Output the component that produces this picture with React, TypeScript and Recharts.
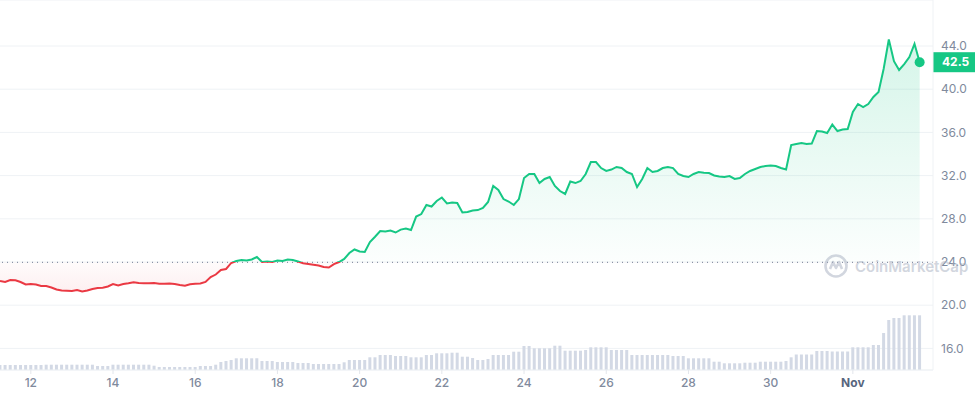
import React from 'react';
import { ComposedChart, Line, Area, Bar, XAxis, YAxis, CartesianGrid, ReferenceLine, ReferenceDot } from 'recharts';

// 3-hour samples starting Oct 11 06:00 (day numbers: Oct 12 = 12, Nov 1 = 32)
const startDay = 11.25;
const stepDay = 0.125;

const prices = [
  22.24, 22.15, 22.33, 22.31, 22.15, 21.92, 21.96, 21.92, 21.78, 21.78,
  21.64, 21.45, 21.36, 21.34, 21.31, 21.41, 21.27, 21.36, 21.5, 21.59,
  21.62, 21.73, 21.96, 21.82, 21.96, 22.03, 22.12, 22.06, 22.03, 22.03,
  22.06, 21.99, 21.99, 22.01, 21.96, 21.87, 21.81, 21.94, 21.99, 22.01,
  22.15, 22.61, 22.84, 23.26, 23.35, 23.91, 24.09, 24.19, 24.14, 24.23,
  24.46, 24.0, 24.05, 24.0, 24.14, 24.09, 24.23, 24.19, 24.05, 23.88,
  23.81, 23.75, 23.68, 23.54, 23.49, 23.81, 24.0, 24.28, 24.83, 25.16,
  24.97, 24.93, 25.85, 26.34, 26.87, 26.82, 26.91, 26.73, 27.0, 27.1,
  26.96, 28.21, 28.44, 29.28, 29.14, 29.65, 29.97, 29.42, 29.51, 29.46,
  28.58, 28.63, 28.77, 28.81, 29.0, 29.56, 31.04, 30.67, 29.83, 29.6,
  29.28, 29.83, 31.78, 32.15, 32.15, 31.31, 31.69, 31.87, 31.04, 30.57,
  30.3, 31.45, 31.31, 31.5, 32.15, 33.26, 33.26, 32.7, 32.43, 32.56,
  32.8, 32.7, 32.33, 32.15, 30.94, 31.69, 32.7, 32.33, 32.43, 32.7,
  32.8, 32.7, 32.15, 31.96, 31.87, 32.15, 32.33, 32.27, 32.24, 32.01,
  31.92, 31.87, 31.96, 31.69, 31.78, 32.15, 32.43, 32.61, 32.8, 32.89,
  32.94, 32.89, 32.7, 32.56, 34.83, 34.93, 35.02, 34.93, 34.97, 36.13,
  36.08, 35.94, 36.73, 36.13, 36.27, 36.31, 37.89, 38.63, 38.35, 38.63,
  39.28, 39.74, 41.9, 44.6, 42.6, 41.78, 42.33, 42.98, 44.2, 42.5,
];

// volume, millions (no axis shown)
const volumes = [
  100, 100, 100, 100, 100, 100, 100, 100, 100, 106,
  106, 106, 106, 106, 106, 106, 106, 106, 106, 80,
  80, 80, 106, 106, 106, 106, 106, 106, 106, 106,
  86, 60, 60, 60, 60, 60, 60, 60, 60, 80,
  80, 80, 106, 160, 180, 200, 234, 234, 234, 234,
  234, 180, 180, 180, 160, 160, 160, 160, 140, 140,
  140, 120, 120, 120, 120, 120, 120, 154, 200, 200,
  200, 200, 254, 254, 300, 300, 300, 280, 280, 280,
  254, 254, 254, 300, 300, 334, 334, 334, 346, 346,
  266, 266, 240, 200, 200, 220, 300, 300, 300, 300,
  366, 366, 480, 480, 434, 434, 434, 434, 486, 486,
  386, 386, 386, 386, 400, 454, 454, 454, 454, 400,
  400, 400, 400, 300, 300, 300, 300, 300, 300, 300,
  300, 280, 280, 280, 234, 234, 234, 234, 234, 166,
  166, 134, 134, 134, 134, 146, 146, 146, 166, 166,
  166, 166, 166, 180, 254, 310, 310, 310, 310, 380,
  380, 380, 370, 370, 370, 370, 454, 454, 454, 454,
  500, 500, 740, 1000, 1040, 1040, 1094, 1094, 1094, 1094,
];

const xTicks = [12, 14, 16, 18, 20, 22, 24, 26, 28, 30, 32];
const yTicks = [16, 20, 24, 28, 32, 36, 40, 44];
const basePrice = 23.97;

const data = prices.map((p, i) => ({ d: startDay + i * stepDay, price: p, vol: volumes[i] }));

const GREEN = '#16c784';
const RED = '#ea3943';
const FONT = 'Inter, "Noto Sans", sans-serif';

const maxP = Math.max(...prices);
const minP = Math.min(...prices);
const off = (maxP - basePrice) / (maxP - minP);
const last = data[data.length - 1];

const XTick = (props: any) => {
  const { x, y, payload } = props;
  const nov = payload.value === 32;
  return (
    <text x={x} y={y} dy="0.71em" textAnchor="middle" fontSize={12} fontFamily={FONT}
      fontWeight={nov ? 700 : 500} fill={nov ? '#58667e' : '#808a9d'}>
      {nov ? 'Nov' : payload.value}
    </text>
  );
};

const PriceTag = (props: any) => {
  const vb = props.viewBox || {};
  const x = vb.x + vb.width;
  const y = vb.y;
  return (
    <g>
      <rect x={x} y={y - 10} width={42} height={20} fill={GREEN} />
      <text x={x + 9} y={y} dy="0.35em" fontSize={12} fontWeight={700} fill="#fff" fontFamily={FONT}>
        {last.price.toFixed(1)}
      </text>
    </g>
  );
};

const Watermark = () => (
  <div style={{ position: 'absolute', left: 823, top: 253, display: 'flex', alignItems: 'center', pointerEvents: 'none', opacity: 0.5 }}>
    <svg width={26} height={26} viewBox="0 0 26 26">
      <circle cx={13} cy={13} r={10.5} fill="none" stroke="#a6afc0" strokeWidth={2.6} />
      <path d="M7 16 L10 9 L13 15 L16 9 L19 16" fill="none" stroke="#a6afc0" strokeWidth={2.6} strokeLinejoin="round" />
    </svg>
    <span style={{ marginLeft: 6, fontFamily: FONT, fontSize: 15, fontWeight: 600, color: '#a6afc0' }}>CoinMarketCap</span>
  </div>
);

const App = () => {
  return (
    <div style={{ position: 'absolute', left: 0, top: 0, width: 975, height: 396, background: '#fff' }}>
      <ComposedChart width={975} height={396} data={data} margin={{ top: 0, right: 0, bottom: 0, left: 0 }}>
        <defs>
          <linearGradient id="lineGrad" x1="0" y1="0" x2="0" y2="1">
            <stop offset={off} stopColor={GREEN} />
            <stop offset={off} stopColor={RED} />
          </linearGradient>
          <linearGradient id="fillGrad" x1="0" y1="0" x2="0" y2="1">
            <stop offset={0} stopColor={GREEN} stopOpacity={0.3} />
            <stop offset={off} stopColor={GREEN} stopOpacity={0.02} />
            <stop offset={off} stopColor={RED} stopOpacity={0.03} />
            <stop offset={1} stopColor={RED} stopOpacity={0.13} />
          </linearGradient>
        </defs>
        <CartesianGrid yAxisId="p" vertical={false} stroke="#eff2f5" />
        <XAxis dataKey="d" type="number" domain={[11.25, 33.95]} ticks={xTicks} height={26}
          axisLine={{ stroke: '#eff2f5' }} tickLine={{ stroke: '#e3e6eb' }} tickSize={4} tickMargin={4}
          tick={<XTick />} interval={0} allowDataOverflow />
        <YAxis yAxisId="p" orientation="right" width={42} domain={[14, 48.26]} ticks={yTicks}
          allowDataOverflow axisLine={{ stroke: '#eff2f5' }} tickLine={false}
          tick={{ fill: '#808a9d', fontSize: 12, fontFamily: FONT }} tickFormatter={(v: number) => v.toFixed(1)} />
        <YAxis yAxisId="v" hide domain={[0, 7400]} />
        <Bar yAxisId="v" dataKey="vol" fill="#d3d9e5" barSize={3} isAnimationActive={false} />
        <Area yAxisId="p" type="linear" dataKey="price" baseValue={basePrice} stroke="none"
          fill="url(#fillGrad)" dot={false} activeDot={false} isAnimationActive={false} />
        <ReferenceLine yAxisId="p" y={basePrice} stroke="#8a93a6" strokeDasharray="1 4" strokeWidth={1.2} />
        <Line yAxisId="p" type="linear" dataKey="price" stroke="url(#lineGrad)" strokeWidth={2}
          dot={false} activeDot={false} isAnimationActive={false} />
        <ReferenceDot yAxisId="p" x={last.d} y={last.price} r={5} fill={GREEN} stroke="none" ifOverflow="hidden" />
        <ReferenceLine yAxisId="p" y={last.price} stroke="none" ifOverflow="visible" label={<PriceTag />} />
      </ComposedChart>
      <Watermark />
    </div>
  );
};

export default App;
